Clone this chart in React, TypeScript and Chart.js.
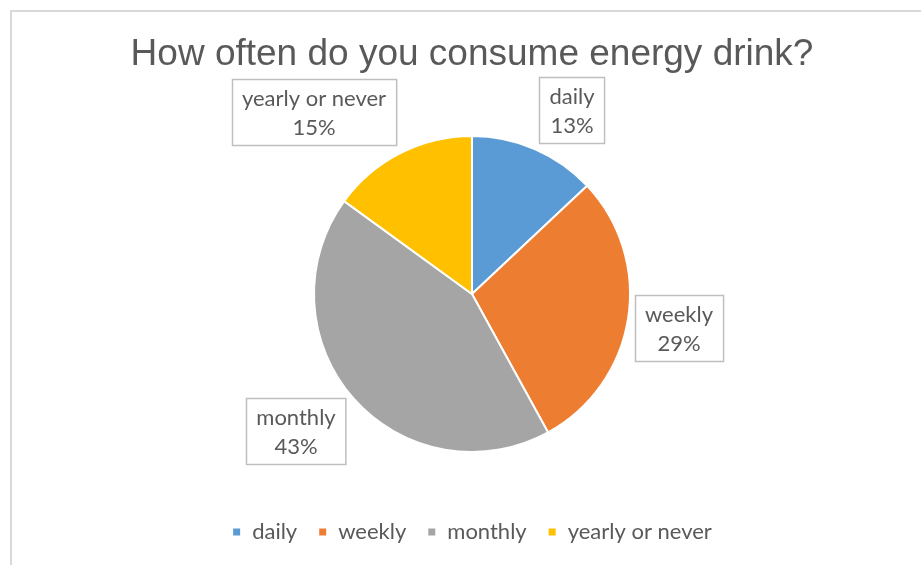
import React, { useEffect, useRef } from "react";
import { Chart, registerables } from "chart.js";

Chart.register(...registerables);

const chartTitle = "How often do you consume energy drink?";
const categories = ["daily", "weekly", "monthly", "yearly or never"];
const shares = [13, 29, 43, 15];
const sliceColors = ["#5B9BD5", "#ED7D31", "#A5A5A5", "#FFC000"];
// label box centres relative to the pie centre, in units of the pie radius
const labelOffsetX = [0.633, 1.31, -1.114, -1.0];
const labelOffsetY = [-1.165, 0.215, 0.867, -1.15];

const TEXT_COLOR = "#595959";
const LABEL_FONT = "Lato, 'Open Sans', sans-serif";

const framePlugin = {
  id: "frameAndLabels",
  beforeDraw(chart: any) {
    const ctx = chart.ctx;
    ctx.save();
    ctx.strokeStyle = "#D9D9D9";
    ctx.lineWidth = 2;
    ctx.beginPath();
    ctx.moveTo(11, chart.height);
    ctx.lineTo(11, 11);
    ctx.lineTo(chart.width, 11);
    ctx.stroke();
    ctx.restore();
  },
  afterDatasetsDraw(chart: any) {
    const ctx = chart.ctx;
    const meta = chart.getDatasetMeta(0);
    const data = chart.data.datasets[0].data as number[];
    const total = data.reduce((a, b) => a + b, 0);
    ctx.save();
    ctx.font = `22px ${LABEL_FONT}`;
    meta.data.forEach((arc: any, i: number) => {
      const { x, y, outerRadius } = arc.getProps(["x", "y", "outerRadius"], true);
      const cx = x + labelOffsetX[i] * outerRadius;
      const cy = y + labelOffsetY[i] * outerRadius;
      const lines = [String(chart.data.labels[i]), Math.round((data[i] / total) * 100) + "%"];
      const tw = Math.max(...lines.map((l) => ctx.measureText(l).width));
      const lineH = 29;
      const w = tw + 20;
      const h = lineH * 2 + 8;
      const left = Math.round(cx - w / 2) + 0.5;
      const top = Math.round(cy - h / 2) + 0.5;
      ctx.fillStyle = "#FFFFFF";
      ctx.fillRect(left, top, w, h);
      ctx.strokeStyle = "#BFBFBF";
      ctx.lineWidth = 1.5;
      ctx.strokeRect(left, top, w, h);
      ctx.fillStyle = TEXT_COLOR;
      ctx.textAlign = "center";
      ctx.textBaseline = "middle";
      ctx.fillText(lines[0], cx, cy - lineH / 2 + 1);
      ctx.fillText(lines[1], cx, cy + lineH / 2 + 1);
    });
    ctx.restore();
  },
};

export default function App() {
  const canvasRef = useRef<HTMLCanvasElement | null>(null);

  useEffect(() => {
    if (!canvasRef.current) return;
    const chart = new Chart(canvasRef.current, {
      type: "pie",
      data: {
        labels: categories,
        datasets: [
          {
            data: shares,
            backgroundColor: sliceColors,
            borderColor: "#FFFFFF",
            borderWidth: 2,
            radius: 158,
          } as any,
        ],
      },
      options: {
        responsive: false,
        animation: false,
        devicePixelRatio: 1,
        layout: { padding: { left: 23, right: 0, top: 0, bottom: 12 } },
        plugins: {
          title: {
            display: true,
            text: chartTitle,
            color: TEXT_COLOR,
            font: { family: "'Liberation Sans', Arial, sans-serif", size: 37, weight: "normal" },
            padding: { top: 33, bottom: 10.6 },
          },
          legend: {
            display: true,
            position: "bottom",
            labels: {
              boxWidth: 9,
              boxHeight: 9,
              padding: 21,
              color: TEXT_COLOR,
              font: { family: LABEL_FONT, size: 22 },
            },
          },
          tooltip: { enabled: false },
        },
      },
      plugins: [framePlugin],
    });
    return () => chart.destroy();
  }, []);

  return (
    <div style={{ position: "fixed", left: 0, top: 0, width: 921, height: 565, background: "#fff" }}>
      <canvas ref={canvasRef} width={921} height={565} />
    </div>
  );
}
